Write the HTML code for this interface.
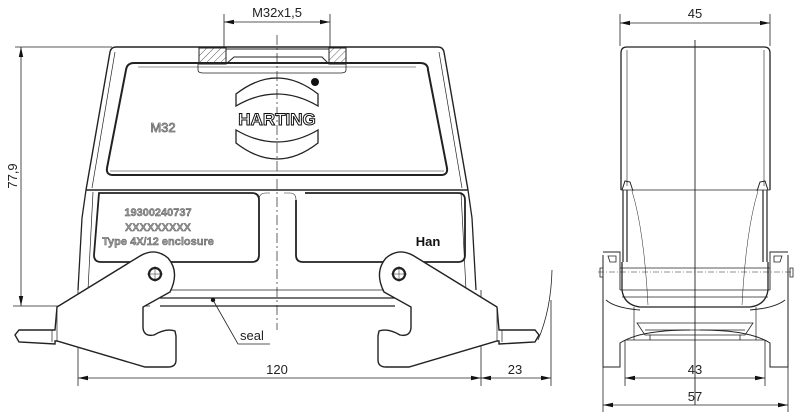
<!DOCTYPE html>
<html><head><meta charset="utf-8"><style>
html,body{margin:0;padding:0;background:#fff;width:800px;height:420px;overflow:hidden}
svg{display:block}
text{font-family:"Liberation Sans","DejaVu Sans",sans-serif}
</style></head><body>
<svg width="800" height="420" viewBox="0 0 800 420" xmlns="http://www.w3.org/2000/svg">
<defs>
<pattern id="h" width="5" height="5" patternUnits="userSpaceOnUse" patternTransform="rotate(45)"><line x1="0" y1="0" x2="0" y2="5" stroke="#333" stroke-width="0.8"/></pattern>
<marker id="a" markerWidth="10" markerHeight="6" refX="10" refY="3" orient="auto-start-reverse" markerUnits="userSpaceOnUse"><path d="M0,0.8 L10,3 L0,5.2z" fill="#111"/></marker>
</defs>
<g fill="none" stroke="#222" stroke-width="1">
<!-- dimensions front -->
<line x1="15" y1="47" x2="112" y2="47" stroke-width="0.8"/>
<line x1="13" y1="306" x2="150" y2="306" stroke-width="0.8"/>
<line x1="21" y1="47" x2="21" y2="306" stroke-width="0.8" marker-start="url(#a)" marker-end="url(#a)"/>
<line x1="224" y1="14" x2="224" y2="48" stroke-width="0.8"/>
<line x1="330" y1="14" x2="330" y2="48" stroke-width="0.8"/>
<line x1="224" y1="22" x2="330" y2="22" stroke-width="0.8" marker-start="url(#a)" marker-end="url(#a)"/>
<line x1="78" y1="290" x2="78" y2="386" stroke-width="0.8"/>
<line x1="481" y1="290" x2="481" y2="386" stroke-width="0.8"/>
<line x1="78" y1="378" x2="481" y2="378" stroke-width="0.8" marker-start="url(#a)" marker-end="url(#a)"/>
<line x1="481" y1="378" x2="551" y2="378" stroke-width="0.8" marker-start="url(#a)" marker-end="url(#a)"/>
<path d="M552,270 Q551,310 538,340" stroke-width="0.8"/>
<line x1="551" y1="300" x2="551" y2="386" stroke-width="0.8"/>
<!-- center line -->
<line x1="277" y1="35" x2="277" y2="330" stroke-width="0.7" stroke-dasharray="10,3,2,3"/>
<!-- hood -->
<path d="M86,190 L110,52 Q111,47 116,47 L438,47 Q443,47 444,52 L468,190" stroke-width="1.4"/>
<path d="M92,188 L115,52 M462,188 L439,52" stroke-width="0.7"/>
<path d="M134,63 L420,63 Q428,63 428,70 L447,168 Q448,175 441,175 L113,175 Q106,175 107,168 L126,70 Q127,63 134,63z" stroke-width="2"/>
<path d="M138,67 L416,67 M110,171 L444,171" stroke-width="0.6"/>
<!-- gland -->
<rect x="199" y="48" width="27" height="16" fill="url(#h)" stroke-width="1"/>
<rect x="329" y="48" width="17" height="16" fill="url(#h)" stroke-width="1"/>
<path d="M226,49 L329,49 M226,64 L234,57 L322,57 L329,64" stroke-width="1"/>
<path d="M198,64 L198,70 Q198,73 203,73 L341,73 Q346,73 346,70 L346,64" stroke-width="0.8"/>
<circle cx="315" cy="82" r="4" fill="#111" stroke="none"/>
<!-- logo -->
<path d="M236,94 Q277,62 318,94 L318,106 Q277,82 236,106z" stroke-width="1.3"/>
<path d="M236,130 Q277,154 318,130 L318,143 Q277,175 236,143z" stroke-width="1.3"/>
<!-- mid section -->
<path d="M86,190 L468,190" stroke-width="1.4"/>
<path d="M86,190 L82,218 L78,290 M468,190 L472,218 L476,290" stroke-width="1.3"/>
<path d="M93,192 L88,290 M461,192 L466,290" stroke-width="0.7"/>
<path d="M99,193 L252,193 Q259,193 259,200 L259,255 Q259,262 252,262 L101,262 Q94,262 94,255z" stroke-width="1.8"/>
<path d="M305,193 L458,193 Q465,193 465,200 L465,255 Q465,262 458,262 L303,262 Q296,262 296,255 L296,200" stroke-width="1.8"/>
<path d="M259,200 Q259,193 266,193 L270,193 M296,200 Q296,193 290,193 L284,193" stroke-width="0.6"/>
<!-- flange lines -->
<line x1="150" y1="290" x2="400" y2="290" stroke-width="0.8"/>
<line x1="160" y1="298" x2="395" y2="298" stroke-width="1.2"/>
<line x1="160" y1="306" x2="395" y2="306" stroke-width="1.2"/>
<line x1="86" y1="290" x2="86" y2="348" stroke-width="0.8"/>
<line x1="468" y1="290" x2="468" y2="348" stroke-width="0.8"/>
<!-- left lever -->
<g id="lv" stroke-width="1.4">
<path d="M57,307 L140,256 Q155,247 168,258 Q180,272 170,292 L143,307 L143,328 Q144,337 154,335 Q166,328 175,331 L176,336 L176,360 Q176,367 168,367 L145,367 L57,341 L55,341 L55,344 L19,342 L15,335 L19,330 L55,330 L57,307z" fill="#fff"/>
<path d="M57,307 L57,341 M52,330 L52,342" stroke-width="0.7"/>
<path d="M22,330 L52,330" stroke-width="0.7" stroke-dasharray="1,1"/>
<circle cx="155" cy="274" r="6" stroke-width="2.2"/>
<path d="M155,266 L155,282 M147,274 L163,274" stroke-width="0.5"/>
</g>
<use href="#lv" transform="translate(554,0) scale(-1,1)"/>
<!-- seal -->
<circle cx="213" cy="300" r="2.2" fill="#111" stroke="none"/>
<path d="M213,300 L238,344 L270,344" stroke-width="0.8"/>
<!-- right view -->
<line x1="620" y1="14" x2="620" y2="46" stroke-width="0.8"/>
<line x1="770" y1="14" x2="770" y2="46" stroke-width="0.8"/>
<line x1="620" y1="23" x2="770" y2="23" stroke-width="0.8" marker-start="url(#a)" marker-end="url(#a)"/>
<line x1="695" y1="40" x2="695" y2="405" stroke-width="0.9"/>
<path d="M621,190 L621,53 Q621,47 627,47 L764,47 Q770,47 770,53 L770,190" stroke-width="1.3"/>
<path d="M627,50 L627,186 M764,50 L764,186" stroke-width="0.6"/>
<path d="M621,190 L770,190" stroke-width="0.8"/>
<path d="M622,190 L625,181 L630,182 L633,191 M768,190 L765,181 L760,182 L757,191" stroke-width="1"/>
<path d="M623,190 L623,262 M627,190 L627,262 M767,190 L767,262 M763,190 L763,262" stroke-width="1.2"/>
<path d="M632,191 Q644,230 648,305 M758,191 Q746,230 742,305" stroke-width="0.5"/>
<path d="M620,268 L770,268 M620,290 L770,290 M622,297 L768,297" stroke-width="0.8"/>
<path d="M622,262 L622,290 Q624,305 640,307 L750,307 Q766,305 768,290 L768,262" stroke-width="1.3"/>
<path d="M603,255 L603,367 L620,367 L620,343 Q640,330 690,330 M788,255 L788,367 L770,367 L770,343 Q750,330 700,330" stroke-width="1"/>
<path d="M603,252 L620,252 L620,290 M788,252 L770,252 L770,290 M606,300 Q615,308 640,310 M785,300 Q775,308 750,310" stroke-width="0.9"/>
<path d="M608,256 L616,256 L616,262 L610,262z M782,256 L774,256 L774,262 L780,262z" stroke-width="0.8"/>
<line x1="598" y1="272" x2="792" y2="272" stroke-width="0.5" stroke-dasharray="6,2,1,2"/>
<path d="M600,268 L603,268 L603,277 L600,277z M790,268 L793,268 L793,277 L790,277z" stroke-width="0.8"/>
<path d="M634,307 L634,340 M756,307 L756,340" stroke-width="0.7"/>
<path d="M637,323 L753,323 L745,335 L645,335z M645,330 L745,330 M650,335 L650,340 M740,335 L740,340 M625,340 L765,340" stroke-width="0.8"/>
<line x1="625" y1="340" x2="625" y2="386" stroke-width="0.8"/>
<line x1="765" y1="340" x2="765" y2="386" stroke-width="0.8"/>
<line x1="625" y1="378" x2="765" y2="378" stroke-width="0.8" marker-start="url(#a)" marker-end="url(#a)"/>
<line x1="603" y1="367" x2="603" y2="412" stroke-width="0.8"/>
<line x1="788" y1="367" x2="788" y2="412" stroke-width="0.8"/>
<line x1="603" y1="405" x2="788" y2="405" stroke-width="0.8" marker-start="url(#a)" marker-end="url(#a)"/>
</g>
<!-- texts -->
<g fill="#222" font-size="13">
<text x="277" y="17" text-anchor="middle">M32x1,5</text>
<text x="17" y="176" text-anchor="middle" transform="rotate(-90 17 176)">77,9</text>
<text x="277" y="374" text-anchor="middle">120</text>
<text x="515" y="374" text-anchor="middle">23</text>
<text x="240" y="340">seal</text>
<text x="695" y="18" text-anchor="middle">45</text>
<text x="695" y="374" text-anchor="middle">43</text>
<text x="695" y="401" text-anchor="middle">57</text>
</g>
<text x="277" y="125" text-anchor="middle" font-size="17" font-weight="bold" fill="#fff" stroke="#111" stroke-width="1">HARTING</text>
<text x="163" y="132" text-anchor="middle" font-size="13" fill="#fff" stroke="#666" stroke-width="0.8">M32</text>
<g fill="#999" stroke="#555" stroke-width="0.4" font-size="11" font-weight="bold" text-anchor="middle">
<text x="158" y="216">19300240737</text>
<text x="158" y="231">XXXXXXXXX</text>
<text x="158" y="245">Type 4X/12 enclosure</text>
</g>
<text x="428" y="246" text-anchor="middle" font-size="13" font-weight="bold" fill="#111">Han</text>
</svg>
</body></html>
